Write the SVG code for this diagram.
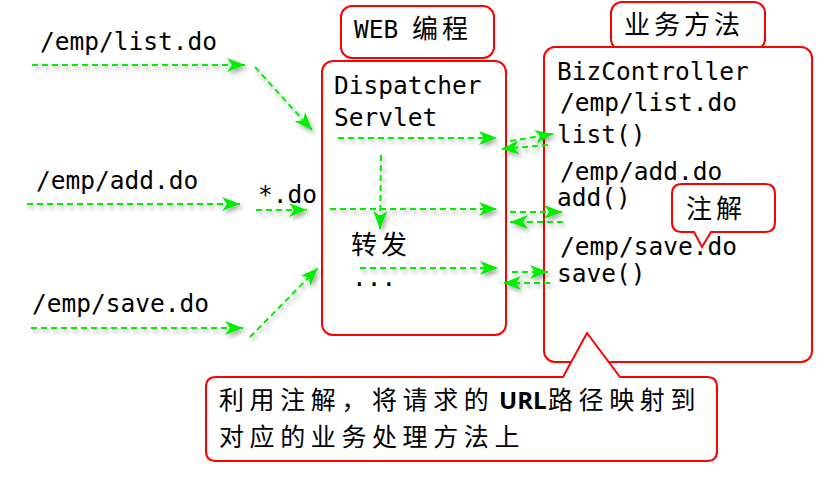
<svg xmlns="http://www.w3.org/2000/svg" width="837" height="492" viewBox="0 0 837 492">
<style>
.box{fill:#fff;stroke:#ff0000;stroke-width:2}
.mono{font-family:"DejaVu Sans Mono","Liberation Mono",monospace;font-size:24.5px;fill:#000}
.cjk{font-family:"Noto Sans CJK SC","Noto Sans",sans-serif;font-size:26px;fill:#000;letter-spacing:4px}
.note{font-family:"Noto Sans CJK SC","Noto Sans",sans-serif;font-size:25px;fill:#000;letter-spacing:5.6px}
.url{font-family:"Open Sans","Noto Sans",sans-serif;font-size:24px;font-weight:bold;fill:#000}
.arr{fill:none;stroke:#00ee00;stroke-width:2;stroke-dasharray:6 4;marker-end:url(#ah)}
</style>
<defs>
<marker id="ah" markerUnits="userSpaceOnUse" markerWidth="20" markerHeight="14" refX="18" refY="7" orient="auto">
<path d="M0,0 L18,7 L0,14 L5,7 Z" fill="#00ee00"/>
</marker>
<filter id="sh" x="-20%" y="-50%" width="140%" height="200%">
<feDropShadow dx="2" dy="3" stdDeviation="2" flood-color="#000" flood-opacity="0.35"/>
</filter>
</defs>

<g id="req-list"><text class="mono" x="40" y="50">/emp/list.do</text></g>
<g id="req-add"><text class="mono" x="36" y="189">/emp/add.do</text></g>
<g id="req-save"><text class="mono" x="32" y="312">/emp/save.do</text></g>
<g id="pattern"><text class="mono" x="258" y="203">*.do</text></g>

<g id="web-label">
<rect class="box" x="341" y="6" width="153" height="52" rx="11"/>
<text class="mono" x="354" y="38">WEB</text>
<text class="cjk" x="412" y="38">编程</text>
</g>

<g id="dispatcher">
<rect class="box" x="322" y="61" width="184" height="274" rx="11"/>
<text class="mono" x="334" y="94">Dispatcher</text>
<text class="mono" x="334" y="126">Servlet</text>
<text class="cjk" x="351" y="254">转发</text>
<text class="mono" x="352" y="286">...</text>
</g>

<g id="biz-label">
<rect class="box" x="611" y="2" width="154" height="48" rx="11"/>
<text class="cjk" x="624" y="34">业务方法</text>
</g>

<g id="bizcontroller">
<rect class="box" x="544" y="47" width="268" height="315" rx="11"/>
<text class="mono" x="557" y="80">BizController</text>
<text class="mono" x="560" y="111">/emp/list.do</text>
<text class="mono" x="557" y="143">list()</text>
<text class="mono" x="560" y="180">/emp/add.do</text>
<text class="mono" x="557" y="206">add()</text>
<text class="mono" x="560" y="255">/emp/save.do</text>
<text class="mono" x="557" y="282">save()</text>
</g>

<g id="annotation-callout">
<path class="box" d="M682,184 H765 Q775,184 775,194 V222 Q775,232 765,232 H711 L702,247 L694,232 H682 Q672,232 672,222 V194 Q672,184 682,184 Z"/>
<text class="cjk" x="686" y="218">注解</text>
</g>

<g id="note-callout">
<path class="box" d="M216,377 H563 L587,333 L620,377 H707 Q717,377 717,387 V451 Q717,461 707,461 H216 Q206,461 206,451 V387 Q206,377 216,377 Z"/>
<text class="note" x="219" y="409">利用注解，将请求的</text>
<text class="url" x="499" y="409">URL</text>
<text class="note" x="548" y="409">路径映射到</text>
<text class="note" x="219" y="446">对应的业务处理方法上</text>
</g>

<g id="connectors" filter="url(#sh)">
<line class="arr" x1="32" y1="65" x2="245" y2="65"/>
<line class="arr" x1="255" y1="67" x2="312" y2="130"/>
<line class="arr" x1="27" y1="204" x2="240" y2="204"/>
<line class="arr" x1="256" y1="210" x2="307" y2="210"/>
<line class="arr" x1="31" y1="328" x2="243" y2="328"/>
<line class="arr" x1="250" y1="337" x2="318" y2="268"/>
<line class="arr" x1="338" y1="138" x2="497" y2="138"/>
<line class="arr" x1="381" y1="155" x2="380" y2="229"/>
<line class="arr" x1="330" y1="209" x2="497" y2="209"/>
<line class="arr" x1="360" y1="268" x2="498" y2="268"/>
<line class="arr" x1="510" y1="141" x2="553" y2="134"/>
<line class="arr" x1="548" y1="145" x2="501" y2="149"/>
<line class="arr" x1="510" y1="212" x2="562" y2="212"/>
<line class="arr" x1="563" y1="222" x2="510" y2="222"/>
<line class="arr" x1="512" y1="272" x2="548" y2="272"/>
<line class="arr" x1="550" y1="283" x2="503" y2="283"/>
</g>
</svg>
